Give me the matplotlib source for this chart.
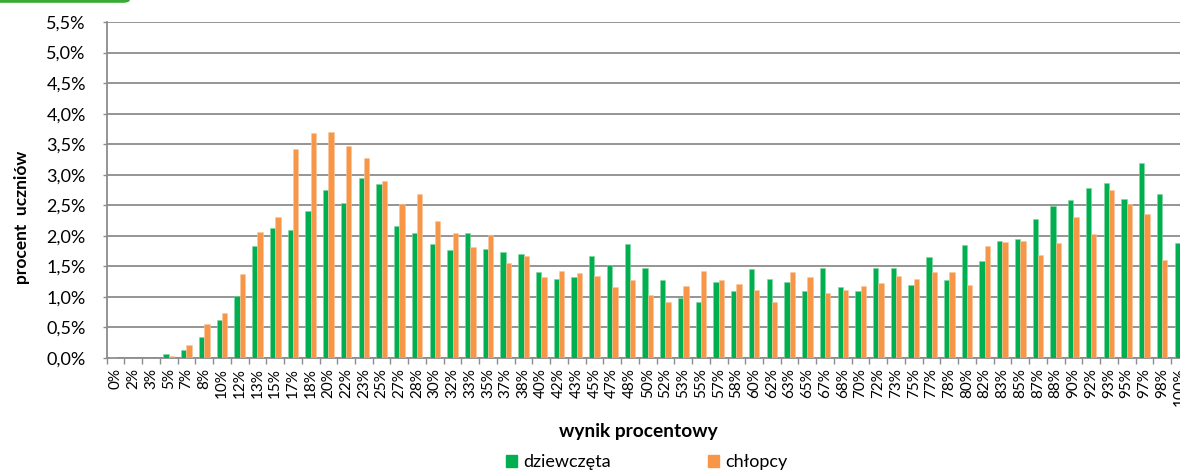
import numpy as np
import matplotlib
matplotlib.use('Agg')
import matplotlib.pyplot as plt
from matplotlib.patches import Patch, FancyBboxPatch
from matplotlib.ticker import FuncFormatter

plt.rcParams['font.family'] = ['Lato', 'DejaVu Sans']

# data (percent of students for each score)
labels = ['0%', '2%', '3%', '5%', '7%', '8%', '10%', '12%', '13%', '15%', '17%', '18%',
          '20%', '22%', '23%', '25%', '27%', '28%', '30%', '32%', '33%', '35%', '37%', '38%',
          '40%', '42%', '43%', '45%', '47%', '48%', '50%', '52%', '53%', '55%', '57%', '58%',
          '60%', '62%', '63%', '65%', '67%', '68%', '70%', '72%', '73%', '75%', '77%', '78%',
          '80%', '82%', '83%', '85%', '87%', '88%', '90%', '92%', '93%', '95%', '97%', '98%',
          '100%']
girls = [0.02, 0.00, 0.00, 0.06, 0.13, 0.34, 0.62, 1.01, 1.83, 2.13, 2.09, 2.40,
         2.75, 2.53, 2.94, 2.85, 2.16, 2.04, 1.87, 1.76, 2.04, 1.78, 1.73, 1.71,
         1.40, 1.29, 1.33, 1.67, 1.52, 1.87, 1.48, 1.27, 0.98, 0.92, 1.24, 1.09,
         1.46, 1.30, 1.24, 1.09, 1.48, 1.16, 1.09, 1.48, 1.48, 1.20, 1.65, 1.27,
         1.85, 1.59, 1.91, 1.95, 2.27, 2.49, 2.59, 2.78, 2.86, 2.60, 3.20, 2.69,
         1.89]
boys = [0.00, 0.00, 0.00, 0.04, 0.21, 0.55, 0.74, 1.37, 2.06, 2.31, 3.42, 3.68,
        3.70, 3.47, 3.27, 2.90, 2.52, 2.68, 2.24, 2.05, 1.82, 2.01, 1.56, 1.67,
        1.33, 1.43, 1.39, 1.35, 1.16, 1.27, 1.03, 0.92, 1.18, 1.43, 1.27, 1.21,
        1.12, 0.92, 1.41, 1.33, 1.07, 1.12, 1.18, 1.22, 1.35, 1.29, 1.41, 1.41,
        1.20, 1.83, 1.90, 1.92, 1.69, 1.88, 2.30, 2.03, 2.75, 2.52, 2.35, 1.61,
        1.40]

green = '#00b050'
orange = '#f79646'
grid_c = '#8c8c8c'

fig = plt.figure(figsize=(11.8, 4.7), dpi=100)
ax = fig.add_axes([0.0904, 0.2383, 0.917, 0.7149])

x = np.arange(len(labels))
w = 0.3
ax.bar(x - w / 2, girls, width=w, color=green, edgecolor='#7fd6a0', linewidth=0.4, zorder=3)
ax.bar(x + w / 2, boys, width=w, color=orange, edgecolor='#fbc8a0', linewidth=0.4, zorder=3)

ax.set_xlim(-0.5, len(labels) - 0.5)
ax.set_ylim(0, 5.5)
ax.set_yticks(np.arange(0, 5.51, 0.5))
ax.yaxis.set_major_formatter(FuncFormatter(lambda v, p: f'{v:.1f}%'.replace('.', ',')))
ax.grid(axis='y', color=grid_c, linewidth=1.3, zorder=0)

ax.set_xticks(x)
ax.set_xticklabels(labels, rotation=90, fontsize=11, va='top')
ax.set_xticks(np.arange(-0.5, len(labels), 1), minor=True)
ax.tick_params(axis='x', which='major', length=0, pad=7)
ax.tick_params(axis='x', which='minor', length=4, color=grid_c, width=1)
ax.tick_params(axis='y', length=3, color=grid_c, width=1, labelsize=13, pad=12)

for s in ['top', 'right']:
    ax.spines[s].set_visible(False)
for s in ['left', 'bottom']:
    ax.spines[s].set_color(grid_c)
    ax.spines[s].set_linewidth(1.3)

fig.text(0.0186, 0.538, 'procent  uczniów', rotation=90, ha='center', va='center',
         fontsize=12.5, fontweight='bold')
fig.text(0.541, 0.081, 'wynik procentowy', ha='center', va='center',
         fontsize=13.8, fontweight='bold')

handles = [Patch(color=green, label='dziewczęta'), Patch(color=orange, label='chłopcy')]
fig.legend(handles=handles, loc='center left', bbox_to_anchor=(0.4288, 0.016), ncol=2,
           frameon=False, fontsize=13, handlelength=0.62, handleheight=0.62,
           handletextpad=0.33, columnspacing=5.4, borderpad=0, borderaxespad=0)

# green header tab clipped at the top-left corner
tab = FancyBboxPatch((-0.02, 0.994), 0.13, 0.03, boxstyle='round,pad=0,rounding_size=0.006',
                     transform=fig.transFigure, facecolor='#3aaa35', edgecolor='none')
fig.patches.append(tab)

fig.savefig('out.png', dpi=100)
